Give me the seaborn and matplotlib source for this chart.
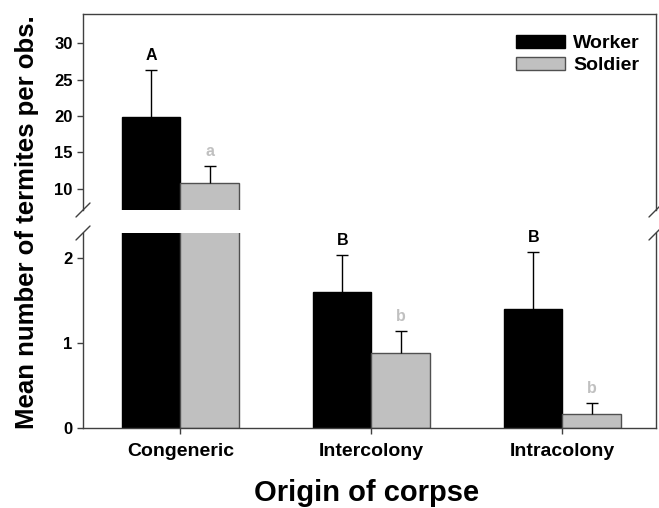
import matplotlib
matplotlib.use("Agg")
import matplotlib.pyplot as plt
import matplotlib.patches as mpatches
from matplotlib.lines import Line2D
import seaborn as sns
import pandas as pd
import numpy as np

# ---- data ----
origins = ["Congeneric", "Intercolony", "Intracolony"]
castes = ["Worker", "Soldier"]
worker_mean = [19.9, 1.61, 1.40]
worker_err = [6.4, 0.43, 0.68]
soldier_mean = [10.85, 0.89, 0.16]
soldier_err = [2.3, 0.25, 0.14]
worker_letters = ["A", "B", "B"]
soldier_letters = ["a", "b", "b"]
upper_ticks = [10, 15, 20, 25, 30]
lower_ticks = [0, 1, 2]

sns.set_style("ticks")
plt.rcParams['font.family'] = ['Liberation Sans', 'DejaVu Sans']
plt.rcParams['font.weight'] = 'bold'
plt.rcParams['text.color'] = 'black'
plt.rcParams['axes.labelcolor'] = 'black'
plt.rcParams['xtick.labelcolor'] = 'black'
plt.rcParams['ytick.labelcolor'] = 'black'

df = pd.DataFrame({
    "origin": origins * 2,
    "caste": ["Worker"] * 3 + ["Soldier"] * 3,
    "mean": worker_mean + soldier_mean,
    "err": worker_err + soldier_err,
    "letter": worker_letters + soldier_letters,
})

W, H = 659, 508
fig = plt.figure(figsize=(W / 100, H / 100), dpi=100)
L, R = 83 / W, 656 / W
top_px, brk_top, brk_bot, bot_px = 14, 210, 233, 428
ax_top = fig.add_axes([L, 1 - brk_top / H, R - L, (brk_top - top_px) / H])
ax_bot = fig.add_axes([L, 1 - bot_px / H, R - L, (bot_px - brk_bot) / H])

palette = {"Worker": "black", "Soldier": "#c0c0c0"}
edges = {"Worker": "black", "Soldier": "#505050"}
letter_colors = {"Worker": "black", "Soldier": "#c0c0c0"}
spine_col = "#404040"

ax_top.set_ylim(7.1, 34)
ax_bot.set_ylim(0, 2.3)

for ax in (ax_top, ax_bot):
    sns.barplot(data=df, x="origin", y="mean", hue="caste", order=origins,
                hue_order=castes, palette=palette, width=0.61, errorbar=None,
                ax=ax, legend=False, saturation=1)
    ylo, yhi = ax.get_ylim()
    for cont, caste in zip(ax.containers, castes):
        sub = df[df.caste == caste].set_index("origin").loc[origins]
        for bar in cont:
            bar.set_edgecolor(edges[caste])
            bar.set_linewidth(1)
        xs = [b.get_x() + b.get_width() / 2 for b in cont]
        eb = ax.errorbar(xs, sub["mean"].values,
                         yerr=[np.zeros(len(xs)), sub["err"].values],
                         fmt='none', ecolor='black', elinewidth=1,
                         capsize=4.5, capthick=1, zorder=1)
        caplines = eb.lines[1]
        if len(caplines) >= 2:
            caplines[0].set_visible(False)
        for x, m, e, lt in zip(xs, sub["mean"], sub["err"], sub["letter"]):
            t = m + e
            if ylo < t < yhi:
                ax.annotate(lt, (x, t), xytext=(0, 5), textcoords="offset points",
                            ha="center", va="bottom", fontsize=11.5,
                            fontweight="bold", color=letter_colors[caste])
    ax.set_xlim(-0.51, 2.49)
    ax.set_xlabel("")
    ax.set_ylabel("")
    for s in ax.spines.values():
        s.set_color(spine_col)
        s.set_linewidth(1)
    ax.tick_params(direction="out", length=4.5, width=1, color=spine_col,
                   labelcolor="black", labelsize=12, pad=3)

ax_top.set_yticks(upper_ticks)
ax_bot.set_yticks(lower_ticks)
ax_top.spines["bottom"].set_visible(False)
ax_top.tick_params(axis="x", bottom=False, labelbottom=False)
ax_bot.spines["top"].set_visible(False)
ax_bot.tick_params(axis="x", labelsize=14, pad=6)
for lab in ax_bot.get_xticklabels() + ax_bot.get_yticklabels() + ax_top.get_yticklabels():
    lab.set_fontweight("bold")

# break marks
for xpx in (L * W, R * W):
    for ypx in (brk_top, brk_bot):
        x0, y0 = (xpx - 7) / W, 1 - (ypx + 7) / H
        x1, y1 = (xpx + 7) / W, 1 - (ypx - 7) / H
        fig.add_artist(Line2D([x0, x1], [y0, y1], color=spine_col, lw=1,
                              transform=fig.transFigure))

# legend
handles = [mpatches.Patch(facecolor=palette[c], edgecolor=edges[c], linewidth=1, label=c)
           for c in castes]
leg = ax_top.legend(handles=handles, frameon=False, loc="upper left",
                    bbox_to_anchor=(516 / W, 1 - 35 / H), bbox_transform=fig.transFigure,
                    borderpad=0, borderaxespad=0, handlelength=2.5,
                    handleheight=0.65, handletextpad=0.45, labelspacing=0.25,
                    prop={"weight": "bold", "size": 14})
for t in leg.get_texts():
    t.set_color("black")

fig.text(27 / W, 1 - 222 / H, "Mean number of termites per obs.", rotation=90,
         ha="center", va="center", fontsize=18.5, fontweight="bold", color="black")
fig.text(367 / W, 1 - 493 / H, "Origin of corpse", ha="center", va="center",
         fontsize=21, fontweight="bold", color="black")

fig.savefig("out.png", dpi=100)
